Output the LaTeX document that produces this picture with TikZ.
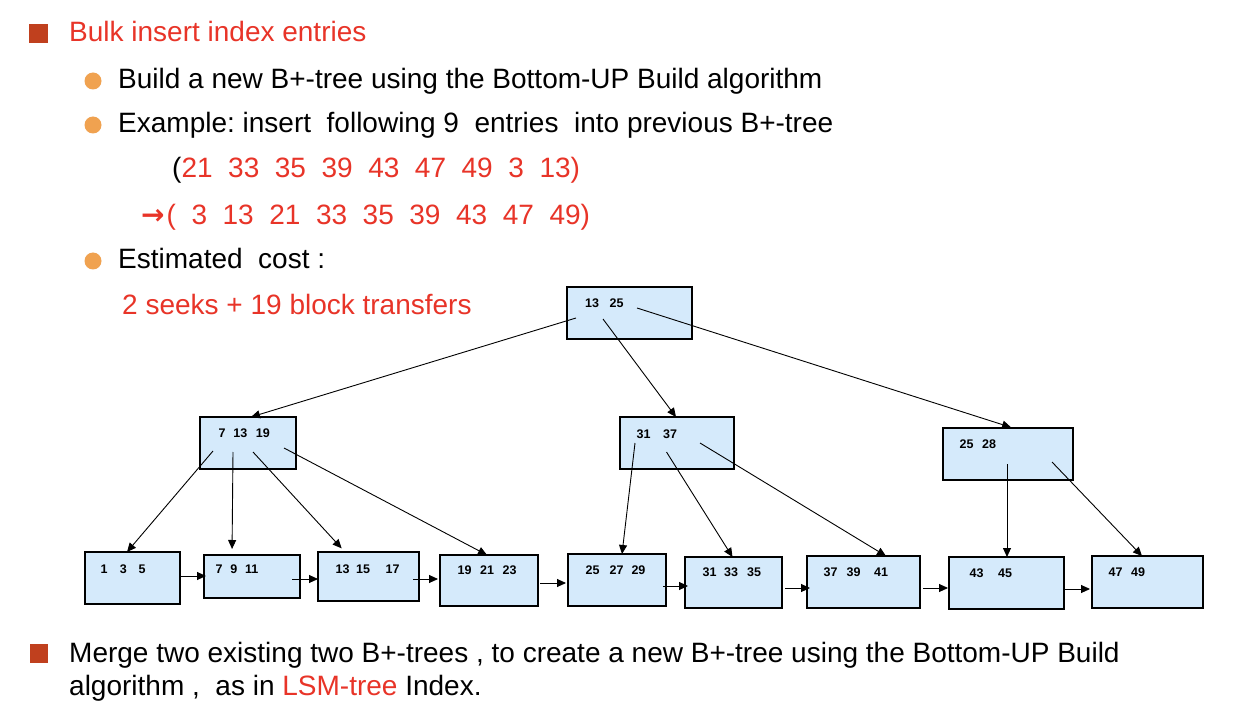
\documentclass[tikz,border=0pt]{standalone}
\usepackage{fontspec}
\setmainfont{Liberation Sans}
\newfontfamily\arrowfont{DejaVu Sans}
\usetikzlibrary{arrows.meta}
\definecolor{redtxt}{RGB}{232,52,40}
\definecolor{sqbullet}{RGB}{192,64,30}
\definecolor{orbullet}{RGB}{240,162,80}
\definecolor{boxfill}{RGB}{213,234,251}
\newcommand\tg[1]{\hspace{#1pt}}
\frenchspacing
\begin{document}
\begin{tikzpicture}[x=1pt,y=-1pt,
  bbox/.style={draw=black,line width=1.2pt,fill=boxfill,inner sep=0pt,outer sep=0pt,anchor=north west},
  btext/.style={anchor=base west,inner sep=0pt,font=\fontsize{12.5}{14}\selectfont\bfseries},
  mtext/.style={anchor=base west,inner sep=0pt,font=\fontsize{28}{34}\selectfont},
  edge/.style={draw=black,line width=0.9pt,-{Triangle[length=9pt,width=8pt]}},
  sqb/.style={fill=sqbullet,draw=none},
  orb/.style={fill=orbullet,draw=none}
]
\path[use as bounding box,fill=white] (0,0) rectangle (1256,714);

% bullets
\fill[sqb] (28.5,24) rectangle (47.5,43);
\fill[orb] (93,81) circle (8.5);
\fill[orb] (93,125) circle (8.5);
\fill[orb] (93,261) circle (8.5);
\fill[sqb] (30,644) rectangle (48,663);

% text lines
\node[mtext,text=redtxt] (t1) at (69,42) {Bulk insert index entries};
\node[mtext] (t2) at (118,89) {Build a new B+-tree using the Bottom-UP Build algorithm};
\node[mtext] (t3) at (118,133) {Example: insert\ \ following 9\ \ entries\ \ into previous B+-tree};
\node[mtext] (t4) at (172,178) {(\textcolor{redtxt}{21\ \ 33\ \ 35\ \ 39\ \ 43\ \ 47\ \ 49\ \ 3\ \ 13)}};
\node[mtext,text=redtxt] (t5) at (141,225) {{\arrowfont\bfseries →}\hspace{2pt}(\ \ 3\ \ 13\ \ 21\ \ 33\ \ 35\ \ 39\ \ 43\ \ 47\ \ 49)};
\node[mtext] (t6) at (118,269) {Estimated\ \ cost :};
\node[mtext,text=redtxt] (t7) at (122,314) {2 seeks + 19 block transfers};
\node[mtext] (t8) at (69,662) {Merge two existing two B+-trees , to create a new B+-tree using the Bottom-UP Build};
\node[mtext] (t9) at (69,695) {algorithm ,\ \ as in \textcolor{redtxt}{LSM-tree} Index.};

% boxes
\node[bbox,minimum width=125pt,minimum height=52pt] (root) at (567,287) {};
\node[bbox,minimum width=96pt,minimum height=52pt] (l1a) at (200,417) {};
\node[bbox,minimum width=114pt,minimum height=52pt] (l1b) at (620,417) {};
\node[bbox,minimum width=130pt,minimum height=52pt] (l1c) at (943,428) {};
\node[bbox,minimum width=95pt,minimum height=52pt] (n1) at (85,552) {};
\node[bbox,minimum width=96pt,minimum height=43pt] (n2) at (204,555) {};
\node[bbox,minimum width=101pt,minimum height=49pt] (n3) at (318,552) {};
\node[bbox,minimum width=98pt,minimum height=51pt] (n4) at (440,555) {};
\node[bbox,minimum width=98pt,minimum height=52pt] (n5) at (568,554) {};
\node[bbox,minimum width=97pt,minimum height=51pt] (n6) at (685,557) {};
\node[bbox,minimum width=113pt,minimum height=52pt] (n7) at (807,556) {};
\node[bbox,minimum width=115pt,minimum height=52pt] (n8) at (949,557) {};
\node[bbox,minimum width=111pt,minimum height=52pt] (n9) at (1092,556) {};

% box texts
\node[btext] (troot) at (585,307) {13\tg{10.6}25};
\node[btext] (tl1a) at (218.5,437) {7\tg{7.8}13\tg{8.6}19};
\node[btext] (tl1b) at (636.5,438) {31\tg{12.6}37};
\node[btext] (tl1c) at (959.5,448) {25\tg{8.6}28};
\node[btext] (tn1) at (100.5,573) {1\tg{12.3}3\tg{11.8}5};
\node[btext] (tn2) at (215.5,573) {7\tg{7.8}9\tg{7.8}11};
\node[btext] (tn3) at (335.5,573) {13\tg{6.6}15\tg{15.6}17};
\node[btext] (tn4) at (457.5,574) {19\tg{8.6}21\tg{8.6}23};
\node[btext] (tn5) at (585.5,574) {25\tg{10}27\tg{8}29};
\node[btext] (tn6) at (702.5,576) {31\tg{7.6}33\tg{9}35};
\node[btext] (tn7) at (823.5,576) {37\tg{9}39\tg{13.7}41};
\node[btext] (tn8) at (969.5,577) {43\tg{14.6}45};
\node[btext] (tn9) at (1108.5,576) {47\tg{8.6}49};

% pointer start coordinates
\coordinate (pr1) at (576,318);
\coordinate (pr2) at (603,319);
\coordinate (pr3) at (637,308);
\coordinate (pa1) at (213,451);
\coordinate (pa2) at (233,452);
\coordinate (pa3) at (253,452);
\coordinate (pa4) at (284,448);
\coordinate (pb1) at (635,443);
\coordinate (pb2) at (666.5,452);
\coordinate (pb3) at (700,443);
\coordinate (pc1) at (1007,464);
\coordinate (pc2) at (1052,462);
\coordinate (k1) at (181,576);
\coordinate (k2) at (292,579);
\coordinate (k3) at (413,579);
\coordinate (k4) at (540,583);
\coordinate (k5) at (663,586);
\coordinate (k6) at (785,588);
\coordinate (k7) at (923,588);
\coordinate (k8) at (1065,589);

% tree edges
\draw[edge] (pr1) -- ([xshift=3pt]l1a.north);
\draw[edge] (pr2) -- ([xshift=-1pt]l1b.north);
\draw[edge,shorten >=2pt] (pr3) -- ([xshift=5pt]l1c.north);
\draw[edge] (pa1) -- ([xshift=-5.5pt]n1.north);
\draw[edge,shorten >=6pt] (pa2) -- ([xshift=-20pt]n2.north);
\draw[edge,shorten >=5pt] (pa3) -- ([xshift=-23.5pt]n3.north);
\draw[edge] (pa4) -- ([xshift=-2pt]n4.north);
\draw[edge] (pb1) -- ([xshift=5pt]n5.north);
\draw[edge] (pb2) -- ([xshift=-1pt]n6.north);
\draw[edge] (pb3) -- ([xshift=22.5pt]n7.north);
\draw[edge] (pc1) -- ([xshift=0.5pt]n8.north);
\draw[edge] (pc2) -- ([xshift=-5.5pt]n9.north);

% leaf links
\draw[edge] (k1) -- ([xshift=2pt]k1 -| n2.west);
\draw[edge] (k2) -- (k2 -| n3.west);
\draw[edge] (k3) -- ([xshift=-2pt]k3 -| n4.west);
\draw[edge] (k4) -- ([xshift=-2pt]k4 -| n5.west);
\draw[edge] (k5) -- ([xshift=3pt]k5 -| n6.west);
\draw[edge] (k6) -- ([xshift=3pt]k6 -| n7.west);
\draw[edge] (k7) -- ([xshift=-1pt]k7 -| n8.west);
\draw[edge] (k8) -- ([xshift=-2pt]k8 -| n9.west);
\end{tikzpicture}
\end{document}
